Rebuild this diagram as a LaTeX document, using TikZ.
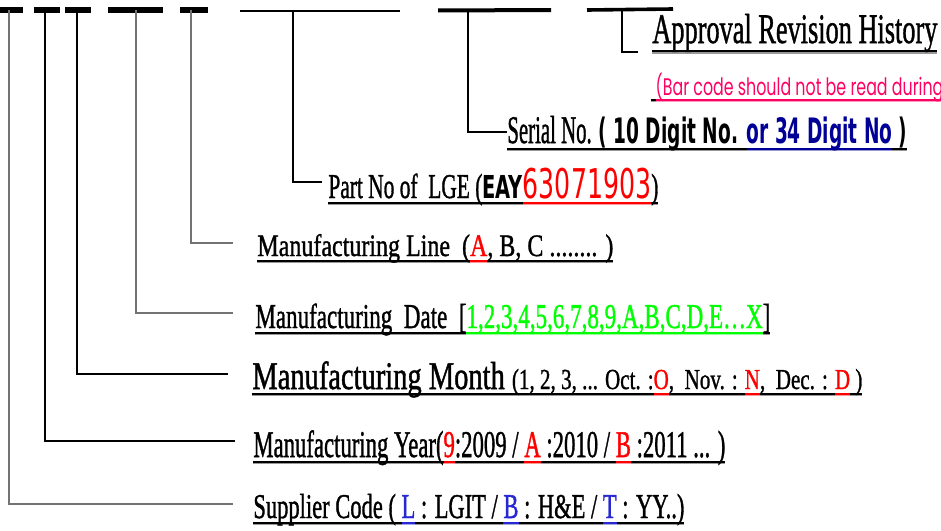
\documentclass[tikz,border=0pt]{standalone}
\usepackage{fontspec}
\usepackage{graphicx}
\setmainfont{Liberation Serif}[FakeBold=1.3]
\newfontfamily\tahoma{DejaVu Sans}
\newfontfamily\gothic{Poppins}
\definecolor{codered}{RGB}{255,0,0}
\definecolor{codegreen}{RGB}{0,255,0}
\definecolor{codenavy}{RGB}{0,0,150}
\definecolor{codeblue}{RGB}{40,40,210}
\definecolor{codepink}{RGB}{255,0,100}
\newlength\uldp \setlength\uldp{2.8pt}
\newcommand\ulx[1]{\setbox0\hbox{#1}\rlap{\rule[-\uldp]{\wd0}{0.8pt}}\rlap{\textcolor{.!40}{\rule[\dimexpr-\uldp-0.8pt\relax]{\wd0}{0.8pt}}}\box0}
\newcommand\fs[1]{\fontsize{#1}{#1}\selectfont}
\newcommand\fitto[2]{\resizebox{#1}{\height}{#2}}
\begin{document}
\begin{tikzpicture}[x=0.5pt,y=-0.5pt,
  bar/.style={line width=3pt},
  lead/.style={line width=0.55pt},
  leadg/.style={line width=0.55pt,black!55},
  lbl/.style={anchor=base west,inner sep=0pt}]
\useasboundingbox (0,0) rectangle (941,530);
% code field bars
\draw[bar] (0,10) -- (23,10);
\draw[bar] (34,10) -- (60,10);
\draw[bar] (65,10) -- (91,10);
\draw[bar] (108,10) -- (163,10);
\draw[bar] (180,10) -- (208,10);
\draw[line width=1pt] (240,11) -- (400,11);
\draw[line width=2pt] (438,10.5) -- (551,10);
\draw[line width=1.8pt] (587,10) -- (673,9);
% labels
\node (approval) at (652,43) [lbl] {\setlength\uldp{4.5pt}\fitto{142.5pt}{\fs{21}\ulx{Approval Revision History}}};
\node (barnote) at (651,95) [lbl] {\fitto{146pt}{\gothic\fs{12}\ulx{\ }\textcolor{codepink}{\ulx{(Bar code should not be read during}}}};
\node (serial) at (507,143) [lbl] {\setlength\uldp{3.3pt}\fitto{200pt}{\fs{19.6}\ulx{Serial No. }{\tahoma\bfseries\fs{17.5}\ulx{( 10 Digit No. }\textcolor{codenavy}{\ulx{or 34 Digit No}}\ulx{ )}}}};
\node (partno) at (328,198) [lbl] {\fitto{165pt}{\fs{17.4}\ulx{Part No of\ \ LGE (}{\tahoma\bfseries\fs{15.8}\ulx{EAY}}\textcolor{codered}{\tahoma\fs{20.5}\ulx{63071903}}\ulx{)}}};
\node (mline) at (257,256) [lbl] {\fitto{178pt}{\fs{15.6}\ulx{Manufacturing Line\ \ (}\textcolor{codered}{\ulx{A}}\ulx{, B, C ........ )}}};
\node (mdate) at (255,328) [lbl] {\fitto{257.5pt}{\fs{17.4}\ulx{Manufacturing\ \ Date\ \ [}\textcolor{codegreen}{\ulx{1,2,3,4,5,6,7,8,9,A,B,C,D,E…X}}\ulx{]}}};
\node (mmonth) at (252,389) [lbl] {\fitto{305pt}{\fs{19.6}\ulx{Manufacturing Month }\fs{14.5}\ulx{(1, 2, 3, ... Oct. :}\textcolor{codered}{\ulx{O}}\ulx{,\ \ Nov. : }\textcolor{codered}{\ulx{N}}\ulx{,\ \ Dec. : }\textcolor{codered}{\ulx{D}}\ulx{ )}}};
\node (myear) at (253,457) [lbl] {\fitto{236pt}{\fs{18.9}\ulx{Manufacturing Year(}\textcolor{codered}{\ulx{9}}\ulx{:2009 / }\textcolor{codered}{\ulx{A}}\ulx{ :2010 / }\textcolor{codered}{\ulx{B}}\ulx{ :2011 ... )}}};
\node (supplier) at (253,518) [lbl] {\fitto{215.5pt}{\fs{17.4}\ulx{Supplier Code ( }\textcolor{codeblue}{\ulx{L}}\ulx{ : LGIT / }\textcolor{codeblue}{\ulx{B}}\ulx{ : H\&E / }\textcolor{codeblue}{\ulx{T}}\ulx{ : YY..)}}};
% connector ends
\coordinate (sup-top) at (9,10);     \coordinate (sup-end) at (233,504);
\coordinate (year-top) at (45,10);   \coordinate (year-end) at (235,441);
\coordinate (month-top) at (77,10);  \coordinate (month-end) at (228,374);
\coordinate (date-top) at (136,10);  \coordinate (date-end) at (233,313);
\coordinate (line-top) at (191,10);  \coordinate (line-end) at (233,243);
\coordinate (part-top) at (293,11);  \coordinate (part-end) at (322,182);
\coordinate (ser-top) at (468,10);   \coordinate (ser-end) at (507,132);
\coordinate (appr-top) at (622,10);  \coordinate (appr-end) at (638,52);
\draw[leadg] (sup-top) |- (sup-end);
\draw[lead] (year-top) |- (year-end);
\draw[lead] (month-top) |- (month-end);
\draw[leadg] (date-top) |- (date-end);
\draw[leadg] (line-top) |- (line-end);
\draw[lead] (part-top) |- (part-end);
\draw[lead] (ser-top) |- (ser-end);
\draw[lead] (appr-top) |- (appr-end);
\end{tikzpicture}
\end{document}
